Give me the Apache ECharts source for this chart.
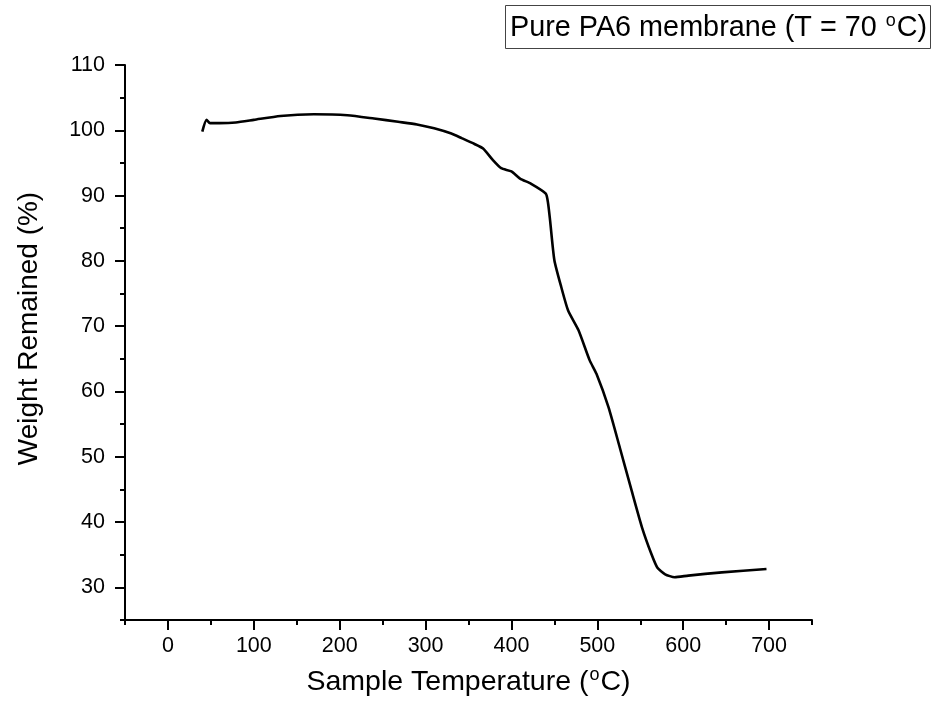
<!DOCTYPE html>
<html>
<head>
<meta charset="utf-8">
<script src="https://cdn.jsdelivr.net/npm/echarts@6/dist/echarts.min.js"></script>
<style>html,body{margin:0;padding:0;background:#fff}#c{width:934px;height:717px}</style>
</head>
<body>
<div id="c"></div>
<script>
// Data
var temperature = [40, 45, 49, 60, 79, 100, 131, 170, 209, 240, 268, 290, 310, 330, 342, 357, 367, 378, 388, 400, 410, 423, 440, 442.7, 445, 450, 458, 466, 478, 491, 499, 513, 526, 540, 552, 563, 570, 579, 590, 606, 645, 697];
var weight = [99.8, 101.6, 101.1, 101.1, 101.2, 101.6, 102.2, 102.45, 102.3, 101.8, 101.3, 100.9, 100.3, 99.5, 98.8, 97.9, 97.2, 95.5, 94.2, 93.7, 92.6, 91.8, 90.3, 88.8, 86.2, 80.1, 76.0, 72.4, 69.4, 64.8, 62.7, 57.6, 51.5, 44.8, 39.2, 35.1, 33.0, 32.0, 31.55, 31.8, 32.3, 32.8];
var xMajorTicks = [0, 100, 200, 300, 400, 500, 600, 700];
var xMinorTicks = [-50, 50, 150, 250, 350, 450, 550, 650, 750];
var yMajorTicks = [30, 40, 50, 60, 70, 80, 90, 100, 110];
var yMinorTicks = [25, 35, 45, 55, 65, 75, 85, 95, 105];

var FONT = 'Liberation Sans, Arial, sans-serif';
var pts = temperature.map(function (t, i) { return [t, weight[i]]; });

var chart = echarts.init(document.getElementById('c'), null, {renderer: 'canvas'});
var lineStyle = {color: '#000', width: 2};
var supStyle = {fontFamily: FONT, fontSize: 18, verticalAlign: 'top', lineHeight: 18, padding: [0, 1, 10, 1], color: '#000'};
chart.setOption({
  animation: false,
  backgroundColor: '#fff',
  title: {
    text: 'Pure PA6 membrane (T = 70 {sup|o}C)',
    left: 505, top: 5,
    padding: [7, 4, 5, 5],
    borderColor: '#444', borderWidth: 1,
    textStyle: {
      fontFamily: FONT, fontSize: 28.8, fontWeight: 'normal', color: '#000', lineHeight: 32,
      rich: {sup: supStyle}
    }
  },
  grid: {left: 125, right: 122, top: 65, bottom: 97, containLabel: false},
  xAxis: [{
    type: 'value', min: -50, max: 750, position: 'bottom',
    name: 'Sample Temperature ({sup|o}C)', nameLocation: 'middle', nameGap: 46,
    nameTextStyle: {fontFamily: FONT, fontSize: 28.5, color: '#000', lineHeight: 32, rich: {sup: supStyle}},
    axisLine: {show: true, onZero: false, lineStyle: lineStyle},
    axisTick: {show: true, inside: false, length: 10, lineStyle: lineStyle, customValues: xMajorTicks},
    axisLabel: {fontFamily: FONT, fontSize: 21.5, color: '#000', margin: 15, customValues: xMajorTicks},
    splitLine: {show: false}
  }, {
    type: 'value', min: -50, max: 750, position: 'bottom',
    axisLine: {show: false, onZero: false},
    axisTick: {show: true, inside: false, length: 5, lineStyle: lineStyle, customValues: xMinorTicks},
    axisLabel: {show: false},
    splitLine: {show: false}
  }],
  yAxis: [{
    type: 'value', min: 25, max: 110, position: 'left',
    name: 'Weight Remained (%)', nameLocation: 'middle', nameGap: 82, nameRotate: 90,
    nameTextStyle: {fontFamily: FONT, fontSize: 28, color: '#000', padding: [0, 0, 0, 28]},
    axisLine: {show: true, onZero: false, lineStyle: lineStyle},
    axisTick: {show: true, inside: false, length: 10, lineStyle: lineStyle, customValues: yMajorTicks},
    axisLabel: {fontFamily: FONT, fontSize: 21.5, color: '#000', margin: 20, customValues: yMajorTicks},
    splitLine: {show: false}
  }, {
    type: 'value', min: 25, max: 110, position: 'left',
    axisLine: {show: false, onZero: false},
    axisTick: {show: true, inside: false, length: 5, lineStyle: lineStyle, customValues: yMinorTicks},
    axisLabel: {show: false},
    splitLine: {show: false}
  }],
  series: [{
    type: 'line', xAxisIndex: 0, yAxisIndex: 0,
    data: pts, showSymbol: false, symbol: 'none',
    smooth: 0.2,
    lineStyle: {color: '#000', width: 2.6},
    clip: false
  }]
});
</script>
</body>
</html>
